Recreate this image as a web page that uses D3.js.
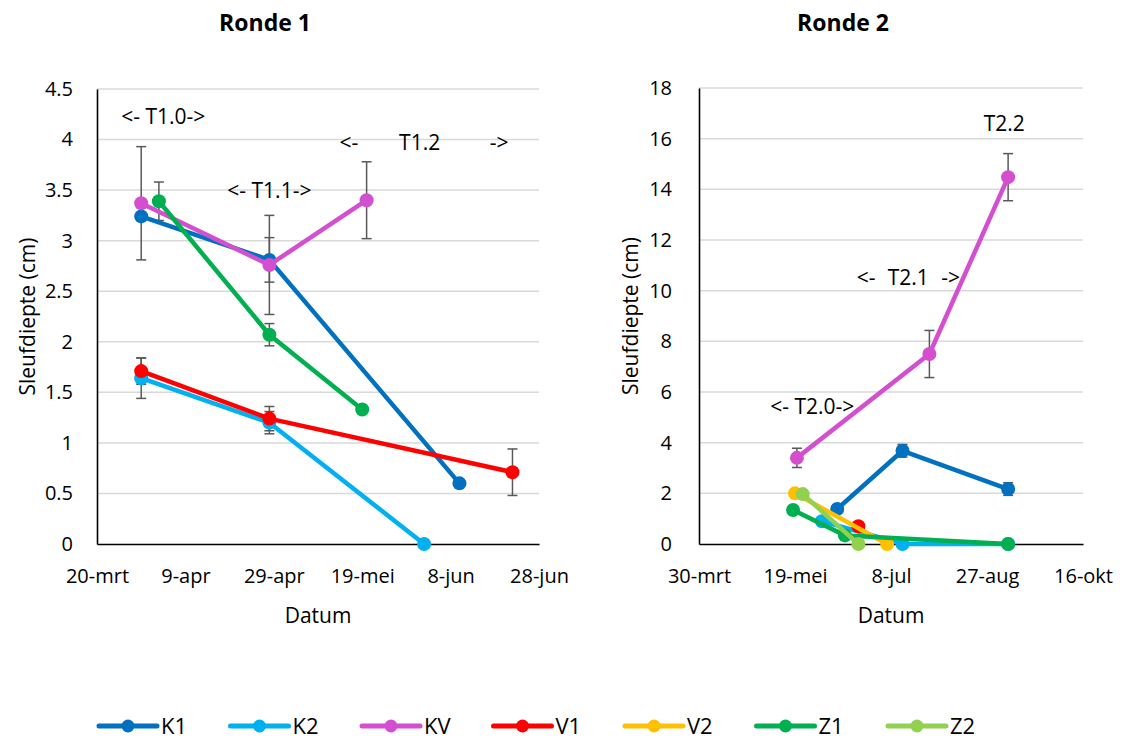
<!DOCTYPE html>
<html><head><meta charset="utf-8">
<script src="https://cdn.jsdelivr.net/npm/d3@7"></script>
<style>
body{margin:0;background:#fff;}
text{font-family:"Open Sans",sans-serif;fill:#000;}
</style></head>
<body><svg id="c" width="1124" height="740"></svg>
<script>
// ---------- data ----------
const seriesNames = ["K1","K2","KV","V1","V2","Z1","Z2"];
const seriesColors = ["#0070C0","#00B0F0","#D34FD0","#FF0000","#FFC000","#00B050","#92D050"];
const monthsNL = ["jan","feb","mrt","apr","mei","jun","jul","aug","sep","okt","nov","dec"];

// Ronde 1: [datum, sleufdiepte (cm), foutmarge]
const r1K1 = [["2020-03-30",3.24,0],["2020-04-28",2.81,0.22],["2020-06-10",0.60,0]];
const r1K2 = [["2020-03-30",1.64,0.20],["2020-04-28",1.20,0.11],["2020-06-02",0.00,0]];
const r1KV = [["2020-03-30",3.37,0.56],["2020-04-28",2.76,0.49],["2020-05-20",3.40,0.38]];
const r1V1 = [["2020-03-30",1.71,0.13],["2020-04-28",1.24,0.12],["2020-06-22",0.71,0.23]];
const r1V2 = [];
const r1Z1 = [["2020-04-03",3.39,0.19],["2020-04-28",2.07,0.11],["2020-05-19",1.33,0.03]];
const r1Z2 = [];

// Ronde 2
const r2K1 = [["2020-06-10",1.38,0],["2020-07-14",3.68,0.25],["2020-09-07",2.17,0.25]];
const r2K2 = [["2020-06-02",0.90,0],["2020-07-14",0.00,0],["2020-09-07",0.00,0]];
const r2KV = [["2020-05-20",3.40,0.38],["2020-07-28",7.50,0.93],["2020-09-07",14.48,0.93]];
const r2V1 = [["2020-06-21",0.70,0]];
const r2V2 = [["2020-05-19",2.00,0],["2020-07-06",0.00,0]];
const r2Z1 = [["2020-05-18",1.34,0],["2020-06-14",0.34,0],["2020-09-07",0.00,0]];
const r2Z2 = [["2020-05-23",1.97,0],["2020-06-21",0.00,0]];

const r1XTicks = ["2020-03-20","2020-04-09","2020-04-29","2020-05-19","2020-06-08","2020-06-28"];
const r2XTicks = ["2020-03-30","2020-05-19","2020-07-08","2020-08-27","2020-10-16"];
const r1YTicks = [0,0.5,1,1.5,2,2.5,3,3.5,4,4.5];
const r2YTicks = [0,2,4,6,8,10,12,14,16,18];

// annotations: [text, datum, y-value]
const r1Notes = [["<- T1.0->","2020-04-04",4.23],["<- T1.1->","2020-04-28",3.49],
                 ["<-","2020-05-16",3.97],["T1.2","2020-06-01",3.97],["->","2020-06-19",3.97]];
const r2Notes = [["<- T2.0->","2020-05-28",5.42],["<-","2020-06-25",10.52],
                 ["T2.1","2020-07-17",10.52],["->","2020-08-08",10.52],["T2.2","2020-09-05",16.6]];

// ---------- drawing ----------
const parse = d3.timeParse("%Y-%m-%d");
const fmtDate = d => d.getDate() + "-" + monthsNL[d.getMonth()];
const svg = d3.select("#c");

function drawPanel(cfg){
  const g = svg.append("g");
  const xt = cfg.xTicks.map(parse);
  const x = d3.scaleTime().domain([xt[0], xt[xt.length-1]]).range([cfg.x0, cfg.x1]);
  const y = d3.scaleLinear().domain([0, d3.max(cfg.yTicks)]).range([cfg.yb, cfg.yt]);

  // gridlines
  g.append("g").selectAll("line").data(cfg.yTicks.filter(v => v > 0)).join("line")
    .attr("x1", cfg.x0).attr("x2", cfg.x1)
    .attr("y1", d => y(d)).attr("y2", d => y(d))
    .attr("stroke", "#D9D9D9").attr("stroke-width", 1.5);

  // axes
  const ax = g.append("g").attr("transform", `translate(0,${cfg.yb})`)
    .call(d3.axisBottom(x).tickValues(xt).tickFormat(fmtDate).tickSize(0).tickPadding(25));
  ax.select(".domain").attr("stroke", "#000").attr("stroke-width", 1.6);
  ax.selectAll("text").attr("font-size", 20).attr("font-family", "Open Sans").attr("fill", "#000");

  const ay = g.append("g").attr("transform", `translate(${cfg.x0},0)`)
    .call(d3.axisLeft(y).tickValues(cfg.yTicks).tickFormat(d3.format("~g")).tickSize(0).tickPadding(cfg.yPad));
  ay.select(".domain").attr("stroke", "#000").attr("stroke-width", 1.6);
  ay.selectAll("text").attr("font-size", 20).attr("font-family", "Open Sans").attr("fill", "#000");

  // titles
  g.append("text").attr("x", cfg.titleX).attr("y", 31).attr("text-anchor", "middle")
    .attr("font-size", 23).attr("font-weight", 700).text(cfg.title);
  g.append("text").attr("x", (cfg.x0 + cfg.x1) / 2 + cfg.xLabelShift).attr("y", 623).attr("text-anchor", "middle")
    .attr("font-size", 21).text("Datum");
  g.append("text").attr("transform", `translate(${cfg.yLabelX},${(cfg.yt + cfg.yb) / 2}) rotate(-90)`)
    .attr("text-anchor", "middle").attr("dy", "0.35em").attr("font-size", 21).text("Sleufdiepte (cm)");

  const series = cfg.series.map((arr, i) => ({
    name: seriesNames[i], color: seriesColors[i],
    pts: arr.map(p => ({date: parse(p[0]), v: p[1], e: p[2]}))
  }));

  // error bars
  const eb = g.append("g").attr("stroke", "#595959").attr("stroke-width", 1.5);
  series.forEach(s => s.pts.filter(p => p.e > 0).forEach(p => {
    const cx = x(p.date);
    eb.append("line").attr("x1", cx).attr("x2", cx).attr("y1", y(p.v - p.e)).attr("y2", y(p.v + p.e));
    eb.append("line").attr("x1", cx - 5).attr("x2", cx + 5).attr("y1", y(p.v - p.e)).attr("y2", y(p.v - p.e));
    eb.append("line").attr("x1", cx - 5).attr("x2", cx + 5).attr("y1", y(p.v + p.e)).attr("y2", y(p.v + p.e));
  }));

  const line = d3.line().x(d => x(d.date)).y(d => y(d.v));
  series.forEach(s => {
    if (!s.pts.length) return;
    g.append("path").datum(s.pts).attr("d", line).attr("fill", "none")
      .attr("stroke", s.color).attr("stroke-width", 4.5).attr("stroke-linejoin", "round").attr("stroke-linecap", "round");
    g.append("g").selectAll("circle").data(s.pts).join("circle")
      .attr("cx", d => x(d.date)).attr("cy", d => y(d.v)).attr("r", 7).attr("fill", s.color);
  });

  // annotations
  g.append("g").selectAll("text").data(cfg.notes).join("text")
    .attr("x", d => x(parse(d[1]))).attr("y", d => y(d[2])).attr("dy", "0.35em")
    .attr("text-anchor", "middle").attr("font-size", 21).text(d => d[0]);
}

drawPanel({title: "Ronde 1", titleX: 265, x0: 97, x1: 539, yb: 544, yt: 89, yPad: 24, yLabelX: 28, xLabelShift: 0,
  xTicks: r1XTicks, yTicks: r1YTicks, series: [r1K1, r1K2, r1KV, r1V1, r1V2, r1Z1, r1Z2], notes: r1Notes});
drawPanel({title: "Ronde 2", titleX: 843, x0: 699, x1: 1083, yb: 544, yt: 88, yPad: 27, yLabelX: 631, xLabelShift: 0,
  xTicks: r2XTicks, yTicks: r2YTicks, series: [r2K1, r2K2, r2KV, r2V1, r2V2, r2Z1, r2Z2], notes: r2Notes});

// legend
const lg = svg.append("g").attr("transform", "translate(97,726)");
const items = lg.selectAll("g").data(seriesNames).join("g")
  .attr("transform", (d, i) => `translate(${i * 131.5},0)`);
items.append("line").attr("x1", 2).attr("x2", 60).attr("y1", 0).attr("y2", 0)
  .attr("stroke", (d, i) => seriesColors[i]).attr("stroke-width", 5).attr("stroke-linecap", "round");
items.append("circle").attr("cx", 31).attr("cy", 0).attr("r", 6.5).attr("fill", (d, i) => seriesColors[i]);
items.append("text").attr("x", 64).attr("y", 0).attr("dy", "0.36em").attr("font-size", 22).text(d => d);
</script></body></html>
